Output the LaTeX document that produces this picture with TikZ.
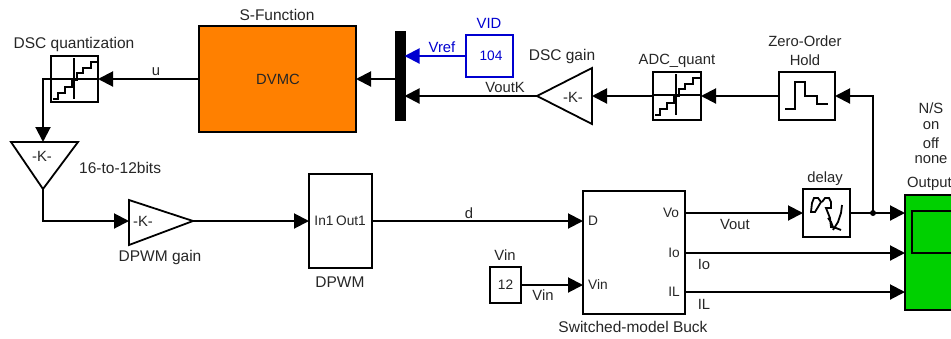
\documentclass[tikz,border=0pt]{standalone}
\usepackage{fontspec}
\setmainfont{Liberation Sans}
\usetikzlibrary{arrows.meta}
\definecolor{dvmcorange}{RGB}{255,128,0}
\definecolor{scopegreen}{RGB}{0,208,0}
\definecolor{vidblue}{RGB}{0,0,208}
\tikzset{
  blk/.style={draw,line width=2pt,inner sep=0pt,outer sep=0pt,anchor=north west},
  lbl/.style={inner sep=0pt,font=\fontsize{14.8}{17}\selectfont,text=black!85},
  lblw/.style={lbl,font=\fontsize{15.5}{17}\selectfont},
  lbls/.style={lbl,font=\fontsize{13.7}{17}\selectfont},
  sig/.style={line width=2pt,-{Triangle[length=15pt,width=15pt]}},
  icon/.style={line width=1.8pt,line join=miter},
}
\begin{document}
\begin{tikzpicture}[x=1pt,y=-1pt,line cap=butt,line join=miter]
  \clip (0,0) rectangle (951,338);
  \fill[white] (0,0) rectangle (951,338);
  % blocks, top row
  \node[blk,fill=dvmcorange,minimum width=157pt,minimum height=106pt] (dvmc) at (199,26) {};
  \node[lbl] (dvmctxt) at (278,79) {DVMC};
  \node[lblw] (sfun) at (277,15) {S-Function};
  \node[blk,minimum width=47pt,minimum height=46pt] (dscq) at (51,56) {};
  \node[lblw] (dscqtxt) at (74,44) {DSC quantization};
  \node[blk,fill=black,minimum width=9pt,minimum height=88pt] (mux) at (395.5,31.5) {};
  \node[blk,draw=vidblue,minimum width=47pt,minimum height=42pt] (vid) at (466,35) {};
  \node[lbls,text=vidblue] (vidval) at (491,56) {104};
  \node[lbl,text=vidblue] (vidtxt) at (489,23) {VID};
  \node[blk,minimum width=48pt,minimum height=48pt] (adc) at (653,72) {};
  \node[lbl] (adctxt) at (677,61) {ADC\_quant};
  \node[blk,minimum width=56pt,minimum height=48pt] (zoh) at (779,72) {};
  \node[lbl] (zohtxt) at (805,41) {Zero-Order};
  \node[lbl] (zohtxtb) at (805,60) {Hold};
  % gains
  \coordinate (dsca) at (537,96);
  \coordinate (dscb) at (592,96);
  \draw[icon] (dsca) -- (592,68) -- (592,124) -- cycle;
  \node[lbl] (dsck) at (573,97) {-K-};
  \node[lblw] (dsctxt) at (562,56) {DSC gain};
  \coordinate (bitsa) at (43,142);
  \coordinate (bitsb) at (43,189);
  \draw[icon] (11,142) -- (78,142) -- (bitsb) -- cycle;
  \node[lbl] (bitsk) at (42,156) {-K-};
  \node[lblw,anchor=west] (bitstxt) at (79,168) {16-to-12bits};
  \coordinate (pwma) at (129,221);
  \coordinate (pwmb) at (193,221);
  \draw[icon] (129,200) -- (pwmb) -- (129,245) -- cycle;
  \node[lbl] (pwmk) at (143,221) {-K-};
  \node[lblw] (pwmtxt) at (160,257) {DPWM gain};
  % blocks, bottom row
  \node[blk,minimum width=63pt,minimum height=94pt] (dpwm) at (309,174) {};
  \node[lbls] (inone) at (324,221) {In1};
  \node[lbls] (outone) at (351,221) {Out1};
  \node[lblw] (dpwmtxt) at (340,282) {DPWM};
  \node[blk,minimum width=102pt,minimum height=123pt] (buck) at (583,191) {};
  \node[lbls] (buckd) at (593,221) {D};
  \node[lbls] (buckvin) at (598,285) {Vin};
  \node[lbls] (buckvo) at (671,213) {Vo};
  \node[lbls] (buckio) at (674,253) {Io};
  \node[lbls] (buckil) at (674,292) {IL};
  \node[lblw] (bucktxt) at (633,327) {Switched-model Buck};
  \node[blk,minimum width=31pt,minimum height=36pt] (vin) at (490,267) {};
  \node[lbls] (vinval) at (505.5,285) {12};
  \node[lbl] (vintxt) at (505,255) {Vin};
  \node[blk,minimum width=47pt,minimum height=48pt] (delay) at (803,189) {};
  \node[lbl] (delaytxt) at (825,179) {delay};
  \node[blk,fill=scopegreen,minimum width=70pt,minimum height=115pt] (scope) at (905,195) {};
  \node[blk,minimum width=60pt,minimum height=42pt] (screen) at (912,211) {};
  \node[lbl,anchor=west] (scopetxt) at (907,184) {Output};
  \node[lbl] (nstxt) at (931,108) {N/S};
  \node[lbl] (ontxt) at (931,126) {on};
  \node[lbl] (offtxt) at (931,143) {off};
  \node[lbl] (nonetxt) at (931,160) {none};
  % icons
  \foreach \bx/\by in {51/56,653/72} {
    \begin{scope}[shift={(\bx,\by)}]
      \draw[icon] (0,23) -- (47,23);
      \draw[icon] (23,2) -- (23,43);
      \draw[icon] (2,43) -- (7,43) -- (7,37) -- (14,37) -- (14,31) -- (21,31) -- (21,24)
        -- (26,24) -- (26,17) -- (32,17) -- (32,12) -- (40,12) -- (40,6) -- (47,6);
    \end{scope}
  }
  \draw[icon] (785,109) -- (795,109) -- (795,82) -- (805,82) -- (805,96) -- (817,96)
    -- (817,104) -- (828,104);
  \draw[icon] (811,212) -- (812,203) -- (814,198) -- (818,198) -- (821,202) -- (818,207)
    -- (815,212) -- cycle;
  \draw[icon] (822,202) -- (825,198) -- (829,198) -- (831,202) -- (831,208) -- (826,208)
    -- (830,218) -- (831,227) -- (836,228) -- (841,230);
  \draw[icon] (842,205) -- (841,213) -- (838,222) -- (833,230);
  \draw[icon] (828,218) -- (831,222) -- (833,227);
  % connectors
  \draw[sig] (dvmc.west) -- (dscq.east);
  \draw[sig] (dscq.west) -| (bitsa);
  \draw[sig] (bitsb) |- (pwma);
  \draw[sig] (pwmb) -- (dpwm.west);
  \draw[sig] (dpwm.east) -- (dpwm.east -| buck.west);
  \draw[sig] (vin.east) -- (vin.east -| buck.west);
  \draw[sig] (dvmc.east -| mux.west) -- (dvmc.east);
  \draw[sig,draw=vidblue,-{Triangle[length=15pt,width=15pt,fill=vidblue]}] (vid.west) -- (vid.west -| mux.east);
  \draw[sig] (dsca) -- (dsca -| mux.east);
  \draw[sig] (adc.west) -- (dscb);
  \draw[sig] (zoh.west) -- (adc.east);
  \coordinate (vo) at (685,213);
  \coordinate (io) at (685,253);
  \coordinate (il) at (685,292);
  \coordinate (tap) at (873,213);
  \draw[sig] (vo) -- (vo -| delay.west);
  \draw[sig] (delay.east) -- (delay.east -| scope.west);
  \draw[sig] (io) -- (io -| scope.west);
  \draw[sig] (il) -- (il -| scope.west);
  \draw[sig] (tap) |- (zoh.east);
  \fill (tap) circle (3pt);
  % signal names
  \node[lbl] (utxt) at (156,72) {u};
  \node[lbl,text=vidblue] (vreftxt) at (442,47) {Vref};
  \node[lbl] (vouttxtk) at (505,87) {VoutK};
  \node[lbl] (dtxt) at (469,213) {d};
  \node[lbl] (vintxtb) at (543,295) {Vin};
  \node[lbl] (vouttxt) at (735,224) {Vout};
  \node[lbl] (iotxt) at (704,264) {Io};
  \node[lbl] (iltxt) at (704,304) {IL};
\end{tikzpicture}
\end{document}
